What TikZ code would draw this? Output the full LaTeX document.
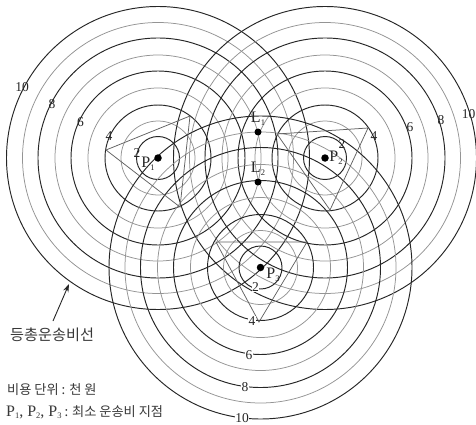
\documentclass[tikz,border=0pt]{standalone}
\usepackage{fontspec}
\setmainfont{Liberation Serif}
\newfontfamily\krfont{Noto Sans CJK KR}
\usetikzlibrary{arrows.meta}
\newcommand{\lowidx}[1]{\raisebox{-2.5pt}{\fontsize{8.5}{8.5}\selectfont #1}}
\tikzset{
  major/.style={draw=black!85,line width=.95pt},
  minor/.style={draw=black!42,line width=.75pt},
  tri/.style={draw=black!62,line width=.75pt,line join=miter},
  dot/.style={circle,fill=black,inner sep=0pt,minimum size=7.5pt},
  num/.style={font=\fontsize{13.5}{13.5}\selectfont,inner sep=.2pt,text=black!85},
  numw/.style={num,fill=white},
  pt/.style={font=\fontsize{16}{16}\selectfont,inner sep=0pt,text=black!85},
  kr/.style={font=\krfont\fontsize{15.2}{16}\selectfont,inner sep=0pt,anchor=west,text=black!78},
  krs/.style={kr,font=\krfont\fontsize{13.2}{14}\selectfont}
,
  lead/.style={draw=black!85,line width=.9pt,-{Stealth[length=8pt,width=5.5pt]}}
}
\begin{document}
\begin{tikzpicture}[x=1pt,y=-1pt]
\useasboundingbox (0,0) rectangle (476,425);
\fill[white] (0,0) rectangle (476,425);
\coordinate (c1) at (158,158);
\coordinate (c2) at (325,158);
\coordinate (c3) at (260.5,267.5);
\foreach \c in {c1,c2,c3}{
  \foreach \r in {37,70,103,135.5}{\draw[minor] (\c) circle[radius=\r];}
  \foreach \r in {21.5,53,87,120,151.5}{\draw[major] (\c) circle[radius=\r];}
}
\draw[tri] (106,150) -- (190,116) -- (180,207) -- cycle;
\draw[tri] (368,128) -- (277,134) -- (330,210) -- cycle;
\draw[tri] (259,322) -- (216,242) -- (307,242) -- cycle;
\node[dot] (p1) at (c1) {};
\node[dot] (p2) at (c2) {};
\node[dot] (p3) at (c3) {};
\node[dot,minimum size=7pt] (l1) at (258,132) {};
\node[dot,minimum size=7pt] (l2) at (258,182) {};
\node[pt] (tp1) at (148,164) {P\lowidx{1}};
\node[pt] (tp2) at (336,158) {P\lowidx{2}};
\node[pt] (tp3) at (273,275) {P\lowidx{3}};
\node[pt] (tl1) at (258,119) {L\lowidx{1}};
\node[pt] (tl2) at (258,169) {L\lowidx{2}};
\node[num] (a10) at (22,87) {10};
\node[num] (a8) at (52,104) {8};
\node[num] (a6) at (80.5,122) {6};
\node[num] (a4) at (109,136) {4};
\node[num] (a2) at (137,153) {2};
\node[num] (b2) at (342,144) {2};
\node[num] (b4) at (374,136) {4};
\node[num] (b6) at (410,127) {6};
\node[num] (b8) at (441,120) {8};
\node[num] (b10) at (468.5,114) {10};
\node[numw] (d2) at (255.5,287) {2};
\node[numw] (d4) at (252,321) {4};
\node[numw] (d6) at (249,355) {6};
\node[numw] (d8) at (245,387) {8};
\node[numw] (d10) at (242,418.5) {10};
\node[kr] (k1) at (10,335) {등총운송비선};
\node[krs] (k2) at (7,390) {비용 단위 : 천 원};
\node[krs] (k3) at (6,412) {{\rmfamily\fontsize{16}{16}\selectfont P\lowidx{1}, P\lowidx{2}, P\lowidx{3}} : 최소 운송비 지점};
\coordinate (ah) at (69,284);
\draw[lead] (53,321) -- (ah);
\end{tikzpicture}
\end{document}
